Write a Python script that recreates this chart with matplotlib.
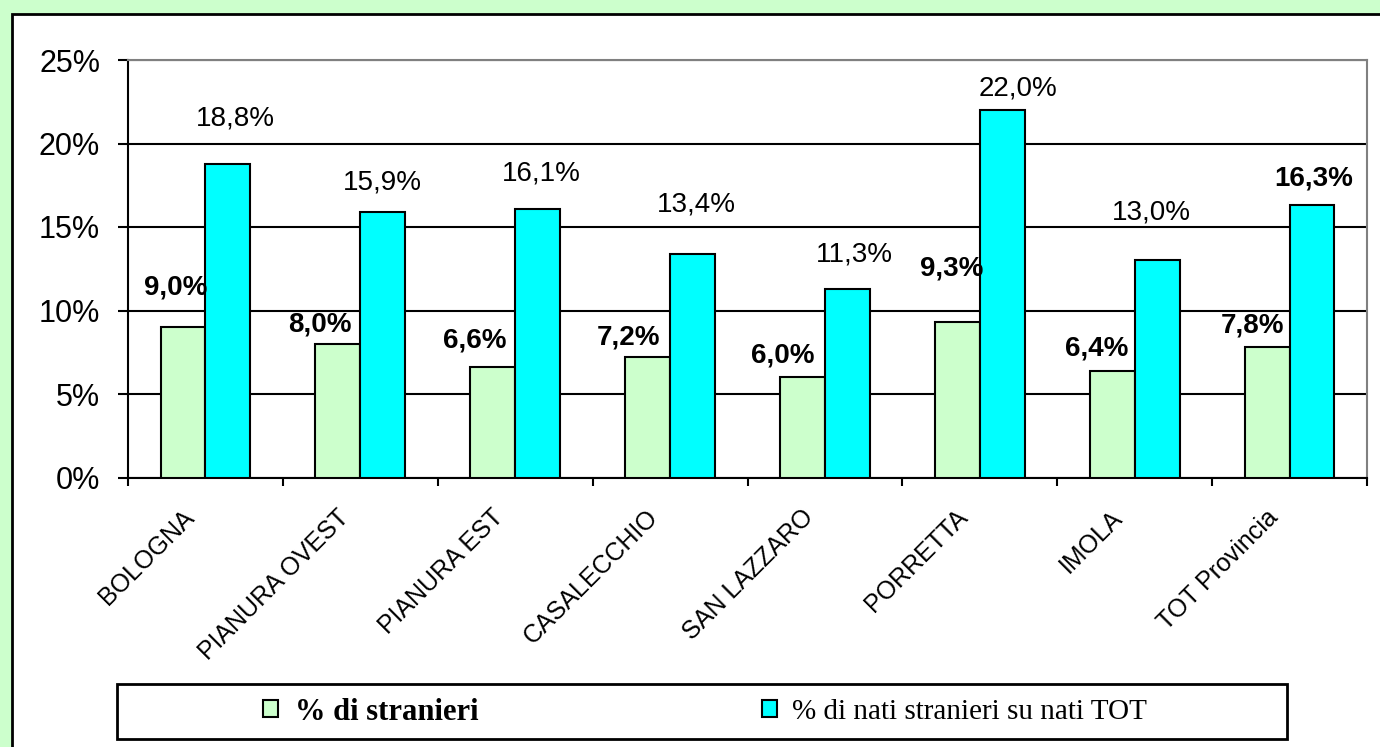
import matplotlib
matplotlib.use('Agg')
import matplotlib.pyplot as plt
import matplotlib.transforms as mtransforms
from matplotlib.patches import Rectangle
from matplotlib.font_manager import FontProperties
import numpy as np

categories = ['BOLOGNA', 'PIANURA OVEST', 'PIANURA EST', 'CASALECCHIO',
              'SAN LAZZARO', 'PORRETTA', 'IMOLA', 'TOT Provincia']
stranieri = [9.0, 8.0, 6.6, 7.2, 6.0, 9.3, 6.4, 7.8]
nati_stranieri = [18.8, 15.9, 16.1, 13.4, 11.3, 22.0, 13.0, 16.3]
label_stranieri = '% di stranieri'
label_nati = '% di nati stranieri su nati TOT'

# label offsets in pixels (Excel placed them by hand)
off_green = [(-7, 40), (-18, 19), (-18, 27), (-19, 20), (-20, 22), (-6, 54), (-16, 22), (-15, 22)]
off_cyan = [(7, 45), (0, 29), (4, 35), (4, 49), (7, 34), (16, 22), (-6, 48), (2, 27)]

W, H = 1380, 747
fig = plt.figure(figsize=(W / 100, H / 100), dpi=100)
fig.patch.set_facecolor('#CCFFCC')
fig.add_artist(Rectangle((11.5 / W, -0.1), 1.2, (H - 13.5) / H + 0.1,
                         transform=fig.transFigure, facecolor='white',
                         edgecolor='black', lw=2, zorder=-1))

ax = fig.add_axes([128 / W, (H - 477.5) / H, (1367 - 128) / W, (477.5 - 60) / H])

x = np.arange(len(categories))
bw = 0.29
b1 = ax.bar(x - bw / 2, stranieri, bw, color='#CCFFCC', edgecolor='black', lw=1.5, zorder=3)
b2 = ax.bar(x + bw / 2, nati_stranieri, bw, color='#00FFFF', edgecolor='black', lw=1.5, zorder=3)

for i, v in enumerate(stranieri):
    ax.annotate(('%.1f%%' % v).replace('.', ','), (x[i] - bw / 2, v),
                xytext=off_green[i], textcoords='offset pixels',
                ha='center', va='center', fontsize=20, fontweight='bold',
                family='Liberation Sans', zorder=4)
for i, v in enumerate(nati_stranieri):
    ax.annotate(('%.1f%%' % v).replace('.', ','), (x[i] + bw / 2, v),
                xytext=off_cyan[i], textcoords='offset pixels',
                ha='center', va='center', fontsize=20,
                fontweight='bold' if i == len(categories) - 1 else 'normal',
                family='Liberation Sans', zorder=4)

ax.set_xlim(-0.5, len(categories) - 0.5)
ax.set_ylim(0, 25)
ax.set_yticks(np.arange(0, 26, 5))
ax.set_yticklabels(['%d%%' % t for t in range(0, 26, 5)],
                   fontsize=22, family='Liberation Sans')
ax.tick_params(axis='y', length=7, width=1.5, pad=13, direction='out')
ax.yaxis.grid(True, color='black', lw=1.5, zorder=0)
ax.set_axisbelow(True)

ax.set_xticks(x)
ax.set_xticklabels(categories, fontsize=18, family='Liberation Sans')
ax.tick_params(axis='x', which='major', length=0, pad=20)
ax.set_xticks(np.arange(-0.5, len(categories), 1), minor=True)
ax.tick_params(axis='x', which='minor', length=6, width=1.5, direction='out')
shift = mtransforms.ScaledTranslation(-24 / 100, 0, fig.dpi_scale_trans)
for lab in ax.get_xticklabels():
    lab.set_rotation(45)
    lab.set_ha('right')
    lab.set_va('top')
    lab.set_rotation_mode('anchor')
    lab.set_transform(lab.get_transform() + shift)

for s in ['left', 'bottom']:
    ax.spines[s].set_color('black')
    ax.spines[s].set_linewidth(1.5)
for s in ['top', 'right']:
    ax.spines[s].set_color('#808080')
    ax.spines[s].set_linewidth(1.5)

# legend box
fig.add_artist(Rectangle((117 / W, 1 - 739 / H), (1287 - 117) / W, 55 / H,
                         transform=fig.transFigure, facecolor='white',
                         edgecolor='black', lw=2, zorder=1))
fig.legend(handles=[b1], labels=[label_stranieri], loc='center left',
           bbox_to_anchor=(263 / W, 1 - 712 / H), bbox_transform=fig.transFigure,
           frameon=False, borderpad=0, borderaxespad=0,
           handlelength=0.5, handleheight=0.5, handletextpad=0.55,
           prop=FontProperties(family='Liberation Serif', weight='bold', size=22))
fig.legend(handles=[b2], labels=[label_nati], loc='center left',
           bbox_to_anchor=(762 / W, 1 - 712 / H), bbox_transform=fig.transFigure,
           frameon=False, borderpad=0, borderaxespad=0,
           handlelength=0.52, handleheight=0.52, handletextpad=0.5,
           prop=FontProperties(family='Liberation Serif', size=21))

fig.savefig('out.png', dpi=100, facecolor=fig.get_facecolor())
